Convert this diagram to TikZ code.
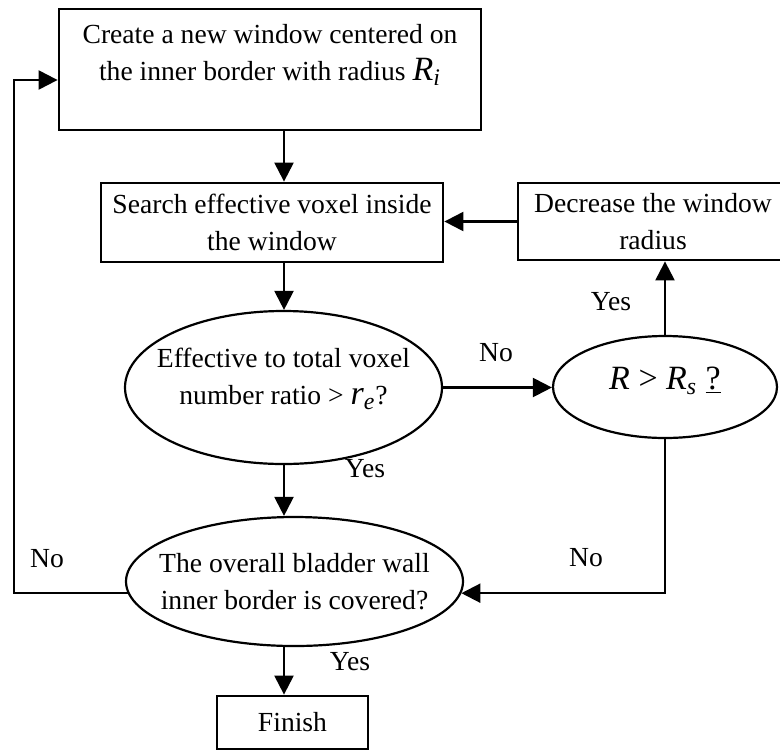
\documentclass[tikz,border=0pt]{standalone}
\usepackage{fontspec}
\setmainfont{Liberation Serif}
\usetikzlibrary{arrows.meta,positioning,shapes.geometric}
\newcommand{\bigvar}[2]{{\fontsize{17}{18.5}\selectfont\itshape #1\textsubscript{#2}}}
\tikzset{
  box/.style={draw,line width=1.4pt,inner sep=0pt,align=center},
  oval/.style={draw,ellipse,line width=1.1pt,inner sep=0pt},
  arr/.style={-{Triangle[length=9.5pt,width=9.5pt]},line width=1.1pt},
  lbl/.style={inner sep=0pt}
}
\begin{document}
\begin{tikzpicture}[x=0.5pt,y=-0.5pt,font=\fontsize{13.8}{18.5}\selectfont]
  \useasboundingbox (0,0) rectangle (780,750);

  % Main column
  \node[box] (create) at (270,69.5) {\parbox[c][60.5pt][t]{211pt}{\centering\rule{0pt}{17pt}Create a new window centered on\\the inner border with radius \bigvar{R}{i}}};
  \node[box,minimum width=171pt,minimum height=39.5pt] (search) at (272,222.5) {Search effective voxel inside\\the window};
  \node[oval,minimum width=158.5pt,minimum height=76.5pt,
        label={[align=center,yshift=4.5pt]center:Effective to total voxel\\number ratio > \bigvar{r}{e}?}] (ratio) at (283.5,387.5) {};
  \node[oval,minimum width=168.5pt,minimum height=64.5pt,
        label={[align=center]center:The overall bladder wall\\inner border is covered?}] (covered) at (294.5,581.5) {};
  \node[box,minimum width=75.5pt,minimum height=26.5pt] (finish) at (292.5,722.5) {Finish};

  % Right branch
  \node[box,minimum width=135pt,minimum height=38.5pt] (shrink) at (653,221.5) {Decrease the window\\radius};
  \node[oval,minimum width=112pt,minimum height=51pt,
        label={[yshift=3pt]center:{\fontsize{17}{18.5}\selectfont\textit{R} > \textit{R}\textsubscript{\textit{s}} \underline{?}}}] (rcheck) at (665,387) {};

  \coordinate (spine) at (284,0);
  \coordinate (back) at (14,80);

  % Connectors
  \draw[arr] (create.south -| spine) -- (search.north -| spine);
  \draw[arr] (search.south -| spine) -- (ratio.north -| spine);
  \draw[arr] (ratio.south -| spine) -- (covered.north -| spine);
  \draw[arr] (covered.south -| spine) -- (finish.north -| spine);
  \draw[arr] (ratio.east) -- (ratio.east -| rcheck.west);
  \draw[arr] (rcheck.north) -- (rcheck.north |- shrink.south);
  \draw[arr] (shrink.west) -- (shrink.west -| search.east);
  \draw[arr] (rcheck.south) |- (covered.-4);
  \draw[arr] (covered.184) -| (back) -- (back -| create.west);

  % Yes / No
  \node[lbl] (no1) at (496,353) {No};
  \node[lbl] (yes1) at (611,302) {Yes};
  \node[lbl] (yes2) at (365,469) {Yes};
  \node[lbl] (no2) at (586,558) {No};
  \node[lbl] (no3) at (47,559) {No};
  \node[lbl] (yes3) at (350,662) {Yes};
\end{tikzpicture}
\end{document}
